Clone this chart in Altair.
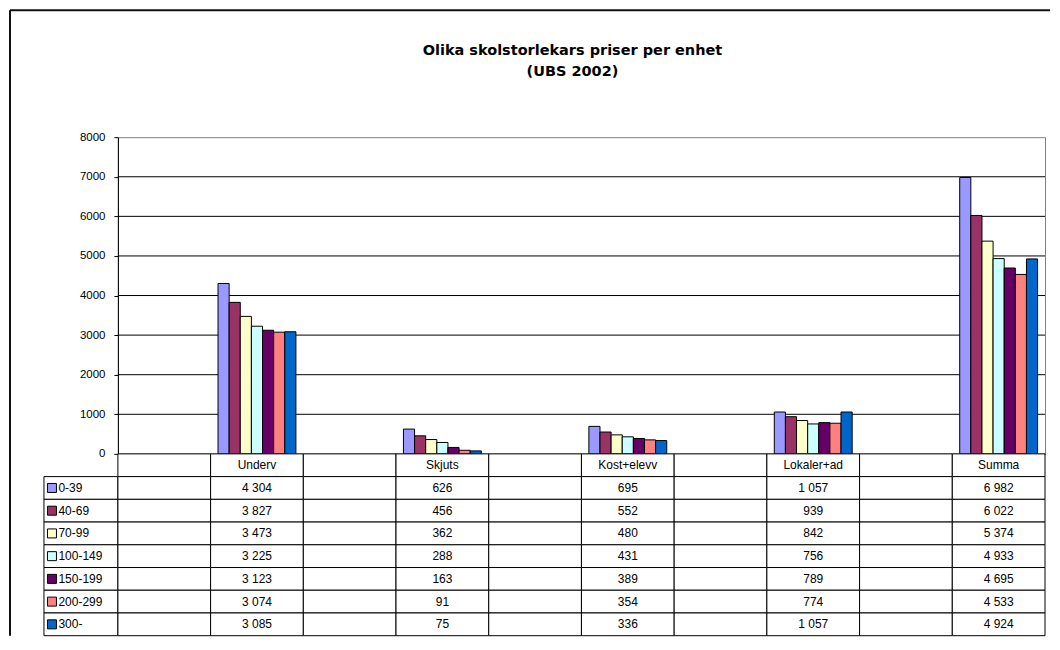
import altair as alt
import pandas as pd

# ---------------- data ----------------
categories = ["Underv", "Skjuts", "Kost+elevv", "Lokaler+ad", "Summa"]
series = ["0-39", "40-69", "70-99", "100-149", "150-199", "200-299", "300-"]
underv = [4304, 3827, 3473, 3225, 3123, 3074, 3085]
skjuts = [626, 456, 362, 288, 163, 91, 75]
kost_elevv = [695, 552, 480, 431, 389, 354, 336]
lokaler_ad = [1057, 939, 842, 756, 789, 774, 1057]
summa = [6982, 6022, 5374, 4933, 4695, 4533, 4924]
colors = ["#9999FF", "#993366", "#FFFFCC", "#CCFFFF", "#660066", "#FF8080", "#0066CC"]
y_ticks = [0, 1000, 2000, 3000, 4000, 5000, 6000, 7000, 8000]
title_lines = ["Olika skolstorlekars priser per enhet", "(UBS 2002)"]

FONT = "Liberation Sans"
TITLE_FONT = "DejaVu Sans"
FS = 12

values_by_cat = dict(zip(categories, [underv, skjuts, kost_elevv, lokaler_ad, summa]))

# Excel data table: an empty column precedes every category
col_keys, col_labels = [], []
for i, c in enumerate(categories):
    col_keys += [f"gap{i}", c]
    col_labels += ["", c]


def fmt(v):
    return f"{v:,}".replace(",", " ")


bars_df = pd.DataFrame(
    [{"col": c, "series": s, "value": v}
     for c in categories for s, v in zip(series, values_by_cat[c])]
)

HDR = "hdr"
rows = [HDR] + series
cells = []
for key, lab in zip(col_keys, col_labels):
    cells.append({"row": HDR, "col": key, "text": lab})
    for j, s in enumerate(series):
        txt = fmt(values_by_cat[key][j]) if key in values_by_cat else ""
        cells.append({"row": s, "col": key, "text": txt})
table_df = pd.DataFrame(cells)
legend_df = pd.DataFrame({"row": series, "series": series})
grid_df = pd.DataFrame({"value": [t for t in y_ticks if 0 < t < y_ticks[-1]]})

color = alt.Color("series:N", scale=alt.Scale(domain=series, range=colors), legend=None)

# ---------------- bar panel ----------------
xb = alt.X("col:N", scale=alt.Scale(domain=col_keys, paddingInner=0.16, paddingOuter=0.08),
           axis=alt.Axis(title=None, labels=False, ticks=False, domainColor="#000", domainWidth=1))
yb = alt.Y("value:Q", scale=alt.Scale(domain=[0, 8000], nice=False),
           axis=alt.Axis(title=None, values=y_ticks, format="d", grid=False, tickSize=4,
                         tickColor="#000", domainColor="#000", labelFont=FONT,
                         labelFontSize=11.5, labelColor="#000", labelPadding=9))

grid = alt.Chart(grid_df).mark_rule(color="#000", strokeWidth=1).encode(y=yb)
bars = alt.Chart(bars_df).mark_bar(stroke="#000", strokeWidth=1).encode(
    x=xb,
    xOffset=alt.XOffset("series:N", scale=alt.Scale(domain=series, paddingInner=0, paddingOuter=0)),
    y=yb,
    color=color,
)
bars_panel = alt.layer(grid, bars).properties(
    width=928, height=317,
    view=alt.ViewBackground(stroke="#808080", strokeWidth=1),
    title=alt.Title(title_lines, font=TITLE_FONT, fontSize=14.5, fontWeight="bold", color="#000",
                    anchor="middle", dx=-9, offset=52, lineHeight=21),
)

# ---------------- spacer with outer frame ----------------
frame_top = alt.Chart(pd.DataFrame({"a": [0]})).mark_rule(color="#111", strokeWidth=2).encode(
    x=alt.value(-34), x2=alt.value(1007), y=alt.value(-127))
frame_left = alt.Chart(pd.DataFrame({"a": [0]})).mark_rule(color="#111", strokeWidth=2).encode(
    x=alt.value(-34), y=alt.value(-127), y2=alt.value(499))
spacer = alt.layer(frame_top, frame_left).properties(width=74, height=317)

# ---------------- legend column ----------------
yrow = alt.Y("row:N", scale=alt.Scale(domain=rows, paddingInner=0, paddingOuter=0), axis=None)
leg_cells = alt.Chart(legend_df).mark_rect(fill="#fff", stroke="#000", strokeWidth=1).encode(
    y=yrow, x=alt.value(0), x2=alt.value("width"))
swatch = alt.Chart(legend_df).mark_square(size=81, filled=True, opacity=1, stroke="#000",
                                          strokeWidth=1).encode(y=yrow, x=alt.value(8), color=color)
leg_text = alt.Chart(legend_df).mark_text(align="left", baseline="middle", font=FONT, fontSize=FS,
                                          color="#000").encode(y=yrow, x=alt.value(14.5), text="series:N")
legend_panel = alt.layer(leg_cells, swatch, leg_text).properties(width=74, height=182)

# ---------------- data table ----------------
xt = alt.X("col:N", scale=alt.Scale(domain=col_keys, paddingInner=0, paddingOuter=0), axis=None)
tcells = alt.Chart(table_df).mark_rect(fill="#fff", stroke="#000", strokeWidth=1).encode(x=xt, y=yrow)
ttext = alt.Chart(table_df).mark_text(font=FONT, fontSize=FS, color="#000", baseline="middle").encode(
    x=xt, y=yrow, text="text:N")
table_panel = alt.layer(tcells, ttext).properties(width=928, height=182)

chart = alt.concat(
    spacer, bars_panel, legend_panel, table_panel,
    columns=2, spacing=0, bounds="flush",
).properties(
    padding={"left": 0, "top": 0, "right": 0, "bottom": 0},
    background="#ffffff",
).configure_view(stroke="transparent")

chart.save("out.html", embed_options={"renderer": "svg", "actions": False})
